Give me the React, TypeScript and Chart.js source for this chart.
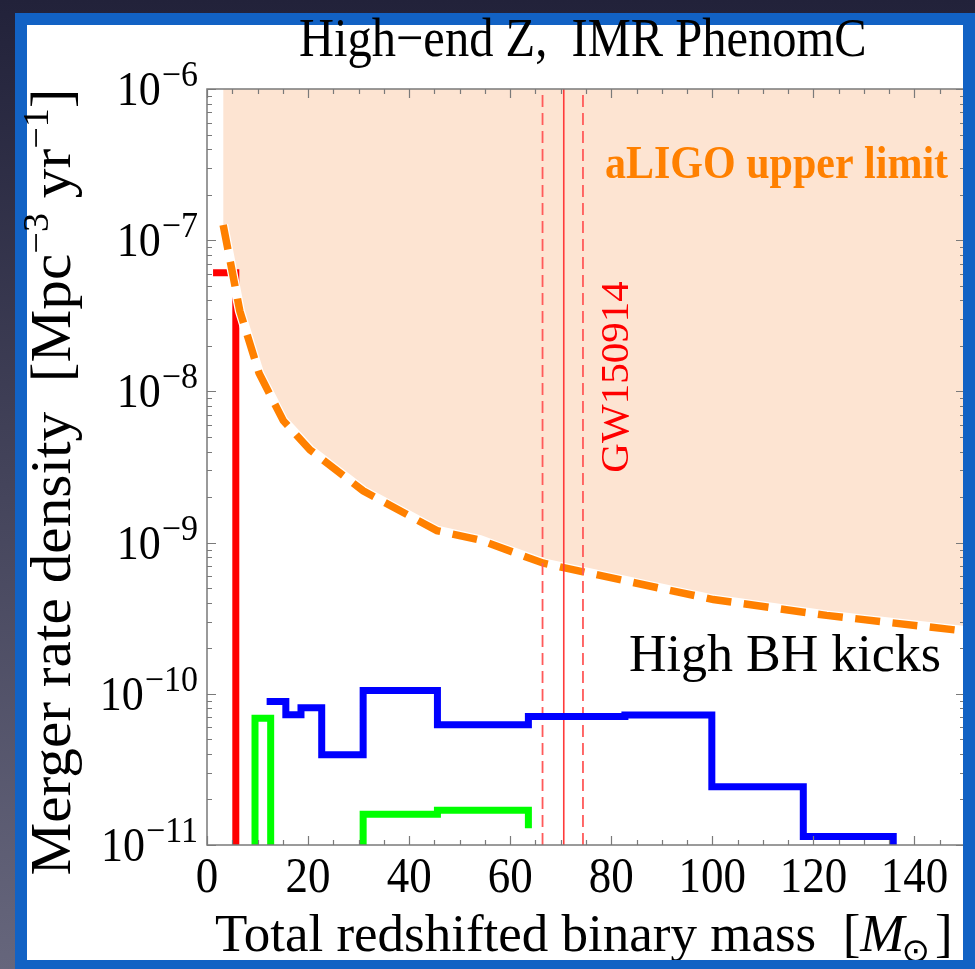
import React, { useEffect, useRef } from "react";
import { Chart, registerables } from "chart.js";

Chart.register(...registerables);

// Axis ranges and tick values
const massRange = [0, 150];
const rateRange = [1e-11, 1e-6];
const xMajorTicks = [0, 20, 40, 60, 80, 100, 120, 140];
const xMinorStep = 5;
const yDecades = [-11, -10, -9, -8, -7, -6];

// aLIGO upper limit on the merger rate density
const limitMass = [3.2, 6.5, 10.3, 15.1, 20.4, 30.9, 45.5, 54.0, 66.6, 70.8, 100.2, 122.6, 150];
const limitRate = [1.26e-7, 3.4e-8, 1.32e-8, 6.4e-9, 4.1e-9, 2.2e-9, 1.2e-9, 1.04e-9, 7.3e-10, 6.8e-10, 4.2e-10, 3.3e-10, 2.6e-10];

// Merger rate histograms (bin edges in solar masses, rates in Mpc^-3 yr^-1)
const redEdges = [1.2, 5.7];
const redRates = [6.08e-8];
const greenEdgesA = [9.5, 12.6];
const greenRatesA = [6.9e-11];
const greenEdgesB = [30.9, 45.6, 63.6];
const greenRatesB = [1.6e-11, 1.7e-11];
const greenTailB = 1.29e-11;
const blueEdges = [11.8, 15.6, 18.6, 22.7, 30.9, 45.6, 63.6, 82.7, 99.9, 118.0, 135.8];
const blueRates = [8.9e-11, 7.26e-11, 8.08e-11, 3.95e-11, 1.05e-10, 6.24e-11, 7.08e-11, 7.25e-11, 2.43e-11, 1.14e-11];

// GW150914 total redshifted mass and its uncertainty band
const gwMass = 70.6;
const gwBand = [66.4, 74.4];

const SERIF = "'Liberation Serif', 'Times New Roman', serif";

type Pt = { x: number; y: number | null };

function steps(edges: number[], rates: number[], riseFrom: number | null, dropTo: number | null): Pt[] {
  const pts: Pt[] = [];
  if (riseFrom !== null) pts.push({ x: edges[0], y: riseFrom });
  rates.forEach((r, i) => {
    pts.push({ x: edges[i], y: r });
    pts.push({ x: edges[i + 1], y: r });
  });
  if (dropTo !== null) pts.push({ x: edges[edges.length - 1], y: dropTo });
  return pts;
}

// text with an optional vertical stretch of the glyphs about the baseline
function text(ctx: CanvasRenderingContext2D, s: string, x: number, y: number, font: string, align: CanvasTextAlign = "left", sy = 1) {
  ctx.save();
  ctx.font = font;
  ctx.textAlign = align;
  ctx.textBaseline = "alphabetic";
  ctx.translate(x, y);
  ctx.scale(1, sy);
  ctx.fillText(s, 0, 0);
  ctx.restore();
}

const decor = {
  id: "decor",
  beforeDraw(chart: any) {
    const { ctx, width, height } = chart;
    ctx.save();
    const g = ctx.createLinearGradient(0, 0, 0, height);
    g.addColorStop(0, "#22223a");
    g.addColorStop(1, "#66667c");
    ctx.fillStyle = g;
    ctx.fillRect(0, 0, width, height);
    ctx.fillStyle = "#1262c4";
    ctx.fillRect(15, 13, width - 15, height - 13);
    ctx.fillStyle = "#ffffff";
    ctx.fillRect(27, 25, 963 - 27, 960 - 25);
    ctx.restore();
  },
  afterDraw(chart: any) {
    const { ctx, chartArea, width, height } = chart;
    const xs = chart.scales.x;
    const ys = chart.scales.y;
    const { left, right, top, bottom } = chartArea;
    ctx.save();

    // frame
    ctx.strokeStyle = "#7a7a7a";
    ctx.lineWidth = 1.5;
    ctx.strokeRect(left, top, right - left, bottom - top);

    // x ticks (inward, top and bottom)
    ctx.lineWidth = 1.2;
    ctx.beginPath();
    for (let v = massRange[0]; v <= massRange[1]; v += xMinorStep) {
      const px = Math.round(xs.getPixelForValue(v)) + 0.5;
      const len = v % 20 === 0 ? 9 : 5;
      ctx.moveTo(px, bottom);
      ctx.lineTo(px, bottom - len);
      ctx.moveTo(px, top);
      ctx.lineTo(px, top + len);
    }
    // y ticks (inward, left and right)
    yDecades.forEach((d) => {
      for (let m = 1; m <= 9; m++) {
        const v = m * Math.pow(10, d);
        if (v > rateRange[1] * 1.0001) break;
        const py = Math.round(ys.getPixelForValue(v)) + 0.5;
        const len = m === 1 ? 9 : 5;
        ctx.moveTo(left, py);
        ctx.lineTo(left + len, py);
        ctx.moveTo(right, py);
        ctx.lineTo(right - len, py);
      }
    });
    ctx.stroke();

    ctx.fillStyle = "#000";

    // x tick labels
    xMajorTicks.forEach((v) => {
      text(ctx, String(v), xs.getPixelForValue(v), 892, `45px ${SERIF}`, "center", 1.12);
    });

    // y tick labels: 10 with a superscript exponent
    yDecades.forEach((d) => {
      const py = ys.getPixelForValue(Math.pow(10, d));
      const exp = "\u2212" + String(Math.abs(d));
      ctx.font = `34px ${SERIF}`;
      const ew = ctx.measureText(exp).width;
      text(ctx, exp, 198, py - 3, `34px ${SERIF}`, "right", 1.05);
      text(ctx, "10", 198 - ew - 1, py + 16, `44px ${SERIF}`, "right", 1.08);
    });

    // title
    text(ctx, "High\u2212end Z,  IMR PhenomC", 299, 56, `48.5px ${SERIF}`, "left", 1.12);

    // x axis title
    {
      let x = 215;
      const base = 951;
      ctx.font = `53px ${SERIF}`;
      const a = "Total redshifted binary mass  [";
      text(ctx, a, x, base, `53px ${SERIF}`);
      x += ctx.measureText(a).width;
      ctx.font = `italic 53px ${SERIF}`;
      text(ctx, "M", x, base, `italic 53px ${SERIF}`);
      x += ctx.measureText("M").width;
      ctx.font = `34px 'DejaVu Sans', sans-serif`;
      text(ctx, "\u2299", x - 3, base + 11, `34px 'DejaVu Sans', sans-serif`);
      x += ctx.measureText("\u2299").width;
      text(ctx, "]", x + 2, base, `53px ${SERIF}`);
    }

    // y axis title (rotated)
    {
      ctx.save();
      ctx.translate(70, 482);
      ctx.rotate(-Math.PI / 2);
      const parts: [string, string, number][] = [
        ["Merger rate density  [Mpc", "n", 0],
        ["\u22123", "s", 0],
        [" yr", "n", 0],
        ["\u22121", "s", 0],
        ["]", "n", 0],
      ];
      const nf = `56px ${SERIF}`;
      const sf = `36px ${SERIF}`;
      let total = 0;
      parts.forEach((p) => {
        ctx.font = p[1] === "n" ? nf : sf;
        p[2] = ctx.measureText(p[0]).width * 1.06;
        total += p[2];
      });
      let x = -total / 2;
      ctx.textAlign = "left";
      parts.forEach((p) => {
        ctx.font = p[1] === "n" ? nf : sf;
        ctx.save();
        ctx.translate(x, p[1] === "n" ? 0 : -22);
        ctx.scale(1.06, 1);
        ctx.fillText(p[0], 0, 0);
        ctx.restore();
        x += p[2];
      });
      ctx.restore();
    }

    // annotations
    ctx.fillStyle = "#ff8000";
    text(ctx, "aLIGO upper limit", 605, 178, `bold 42px ${SERIF}`, "left", 1.08);

    ctx.fillStyle = "#000";
    text(ctx, "High BH kicks", 629, 671, `52px ${SERIF}`);

    ctx.save();
    ctx.translate(628, 377);
    ctx.rotate(-Math.PI / 2);
    ctx.fillStyle = "#ff0000";
    ctx.font = `41px ${SERIF}`;
    ctx.textAlign = "center";
    ctx.fillText("GW150914", 0, 0);
    ctx.restore();

    // border strips on the right and bottom overlap the plot frame
    ctx.fillStyle = "#1262c4";
    ctx.fillRect(963, 13, width - 963, height - 13);
    ctx.fillRect(15, 960, width - 15, height - 960);
    ctx.restore();
  },
};

export default function App() {
  const ref = useRef<HTMLCanvasElement | null>(null);

  useEffect(() => {
    document.body.style.margin = "0";
    const canvas = ref.current;
    if (!canvas) return;

    const limitPts = limitMass.map((m, i) => ({ x: m, y: limitRate[i] }));
    const vline = (m: number) => [
      { x: m, y: rateRange[0] },
      { x: m, y: rateRange[1] },
    ];
    const greenPts: Pt[] = [
      ...steps(greenEdgesA, greenRatesA, rateRange[0], rateRange[0]),
      { x: 20, y: null },
      ...steps(greenEdgesB, greenRatesB, rateRange[0], greenTailB),
    ];

    const chart = new Chart(canvas, {
      type: "line",
      data: {
        datasets: [
          {
            label: "aLIGO excluded region",
            data: limitPts,
            borderWidth: 0,
            borderColor: "rgba(0,0,0,0)",
            backgroundColor: "#fde4d2",
            fill: "end",
            order: 10,
          },
          {
            label: "red",
            data: steps(redEdges, redRates, null, rateRange[0]),
            borderColor: "#ff0000",
            borderWidth: 7,
            fill: false,
            order: 9,
          },
          {
            label: "limit halo",
            data: limitPts,
            borderColor: "#ffffff",
            borderWidth: 10,
            fill: false,
            order: 8,
          },
          {
            label: "aLIGO upper limit",
            data: limitPts,
            borderColor: "#ff8000",
            borderWidth: 7.5,
            borderDash: [25, 12.5],
            fill: false,
            order: 7,
          },
          {
            label: "GW150914 low",
            data: vline(gwBand[0]),
            borderColor: "#ff5a5a",
            borderWidth: 1.8,
            borderDash: [12, 6],
            fill: false,
            order: 6,
          },
          {
            label: "GW150914 high",
            data: vline(gwBand[1]),
            borderColor: "#ff5a5a",
            borderWidth: 1.8,
            borderDash: [12, 6],
            fill: false,
            order: 6,
          },
          {
            label: "GW150914",
            data: vline(gwMass),
            borderColor: "#ff3a3a",
            borderWidth: 1.6,
            fill: false,
            order: 5,
          },
          {
            label: "green",
            data: greenPts,
            borderColor: "#00ff00",
            borderWidth: 7,
            borderJoinStyle: "miter",
            fill: false,
            spanGaps: false,
            order: 4,
          },
          {
            label: "blue",
            data: steps(blueEdges, blueRates, null, rateRange[0]),
            borderColor: "#0000ff",
            borderWidth: 7,
            borderJoinStyle: "miter",
            fill: false,
            order: 3,
          },
        ] as any,
      },
      options: {
        responsive: false,
        animation: false,
        parsing: true,
        layout: { padding: { left: 207, top: 89, right: 10, bottom: 124 } },
        elements: { point: { radius: 0, hoverRadius: 0 }, line: { tension: 0, borderJoinStyle: "miter" } },
        plugins: { legend: { display: false }, tooltip: { enabled: false }, title: { display: false } },
        scales: {
          x: { type: "linear", min: massRange[0], max: massRange[1], display: false },
          y: { type: "logarithmic", min: rateRange[0], max: rateRange[1], display: false },
        },
      } as any,
      plugins: [decor],
    });

    return () => chart.destroy();
  }, []);

  return <canvas ref={ref} width={975} height={969} style={{ display: "block" }} />;
}
